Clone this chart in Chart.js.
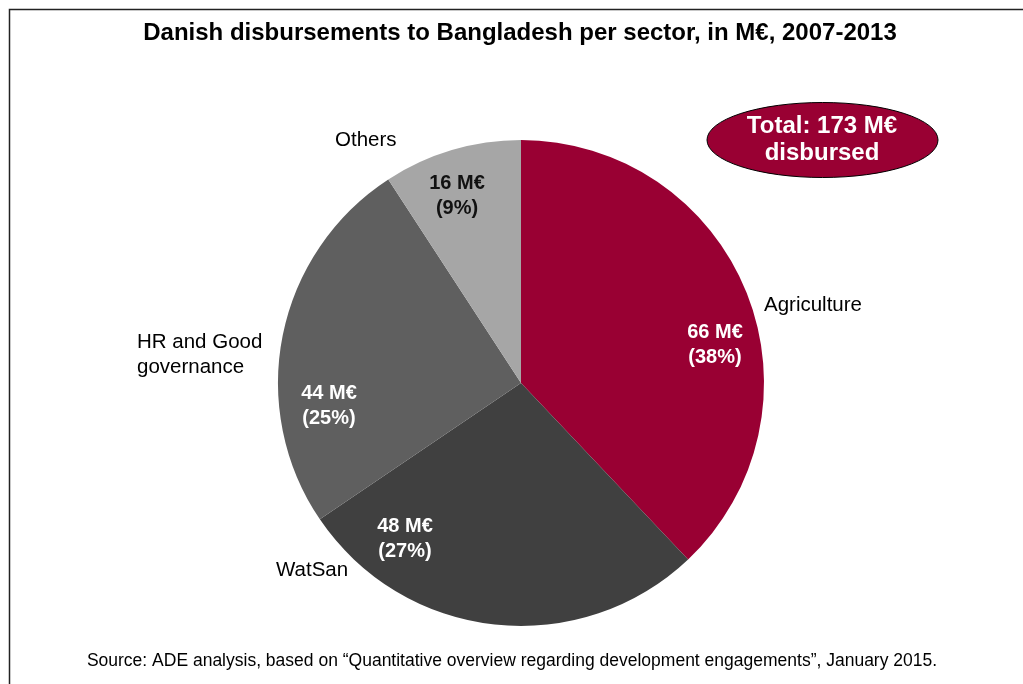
<!DOCTYPE html>
<html>
<head>
<meta charset="utf-8">
<script src="https://cdn.jsdelivr.net/npm/chart.js@4/dist/chart.umd.min.js"></script>
<style>
  html, body { margin: 0; padding: 0; background: #fff; }
  #wrap { width: 1023px; height: 684px; position: relative; }
</style>
</head>
<body>
<div id="wrap"><canvas id="sector-chart" width="1023" height="684"></canvas></div>
<script>
// Disbursements per sector, M€
const sectors = ['Agriculture', 'WatSan', 'HR and Good governance', 'Others'];
const amounts = [66, 48, 44, 16];
const shares = [38, 27, 25, 9];
const sectorColors = ['#990033', '#404040', '#5f5f5f', '#a6a6a6'];
const totalAmount = 173;

// where the sector names and value labels go
const nameLayout = [
  { lines: ['Agriculture'], x: 764, y: 305 },
  { lines: ['WatSan'], x: 276, y: 570 },
  { lines: ['HR and Good', 'governance'], x: 137, y: 342 },
  { lines: ['Others'], x: 335, y: 140 }
];
const valueLayout = [
  { x: 715, y: 332, color: '#fff' },
  { x: 405, y: 526, color: '#fff' },
  { x: 329, y: 393, color: '#fff' },
  { x: 457, y: 183, color: '#111' }
];

const FONT = 'Arial, "Liberation Sans", sans-serif';

const decorations = {
  id: 'decorations',
  beforeDraw(chart) {
    const ctx = chart.ctx;
    ctx.save();
    ctx.fillStyle = '#fff';
    ctx.fillRect(0, 0, chart.width, chart.height);
    // frame
    ctx.strokeStyle = '#222';
    ctx.lineWidth = 1.5;
    ctx.beginPath();
    ctx.moveTo(9.5, chart.height + 2);
    ctx.lineTo(9.5, 9.5);
    ctx.lineTo(chart.width + 2, 9.5);
    ctx.stroke();
    ctx.restore();
  },
  afterDraw(chart) {
    const ctx = chart.ctx;
    ctx.save();
    ctx.textBaseline = 'middle';

    // title
    ctx.fillStyle = '#000';
    ctx.textAlign = 'center';
    ctx.font = 'bold 24px ' + FONT;
    ctx.fillText('Danish disbursements to Bangladesh per sector, in M€, 2007-2013', 520, 33);

    // sector names
    ctx.font = '20.5px ' + FONT;
    ctx.textAlign = 'left';
    nameLayout.forEach(n => {
      n.lines.forEach((line, i) => ctx.fillText(line, n.x, n.y + i * 25));
    });

    // values on slices
    ctx.font = 'bold 20px ' + FONT;
    ctx.textAlign = 'center';
    amounts.forEach((v, i) => {
      const p = valueLayout[i];
      ctx.fillStyle = p.color;
      ctx.fillText(v + ' M€', p.x, p.y);
      ctx.fillText('(' + shares[i] + '%)', p.x, p.y + 25);
    });

    // total bubble
    ctx.beginPath();
    ctx.ellipse(822.5, 140, 115.5, 37.5, 0, 0, Math.PI * 2);
    ctx.fillStyle = '#990033';
    ctx.fill();
    ctx.strokeStyle = '#000';
    ctx.lineWidth = 1;
    ctx.stroke();
    ctx.fillStyle = '#fff';
    ctx.font = 'bold 24px ' + FONT;
    ctx.fillText('Total: ' + totalAmount + ' M€', 822, 126);
    ctx.fillText('disbursed', 822, 153);

    // source
    ctx.fillStyle = '#000';
    ctx.font = '17.5px ' + FONT;
    ctx.fillText('Source: ADE analysis, based on \u201cQuantitative overview regarding development engagements\u201d, January 2015.', 512, 661);
    ctx.restore();
  }
};

new Chart(document.getElementById('sector-chart').getContext('2d'), {
  type: 'pie',
  data: {
    labels: sectors,
    datasets: [{
      data: amounts,
      backgroundColor: sectorColors,
      borderWidth: 0
    }]
  },
  options: {
    responsive: false,
    animation: false,
    layout: { padding: { top: 140, bottom: 58, left: 278, right: 259 } },
    plugins: {
      legend: { display: false },
      tooltip: { enabled: false }
    }
  },
  plugins: [decorations]
});
</script>
</body>
</html>
